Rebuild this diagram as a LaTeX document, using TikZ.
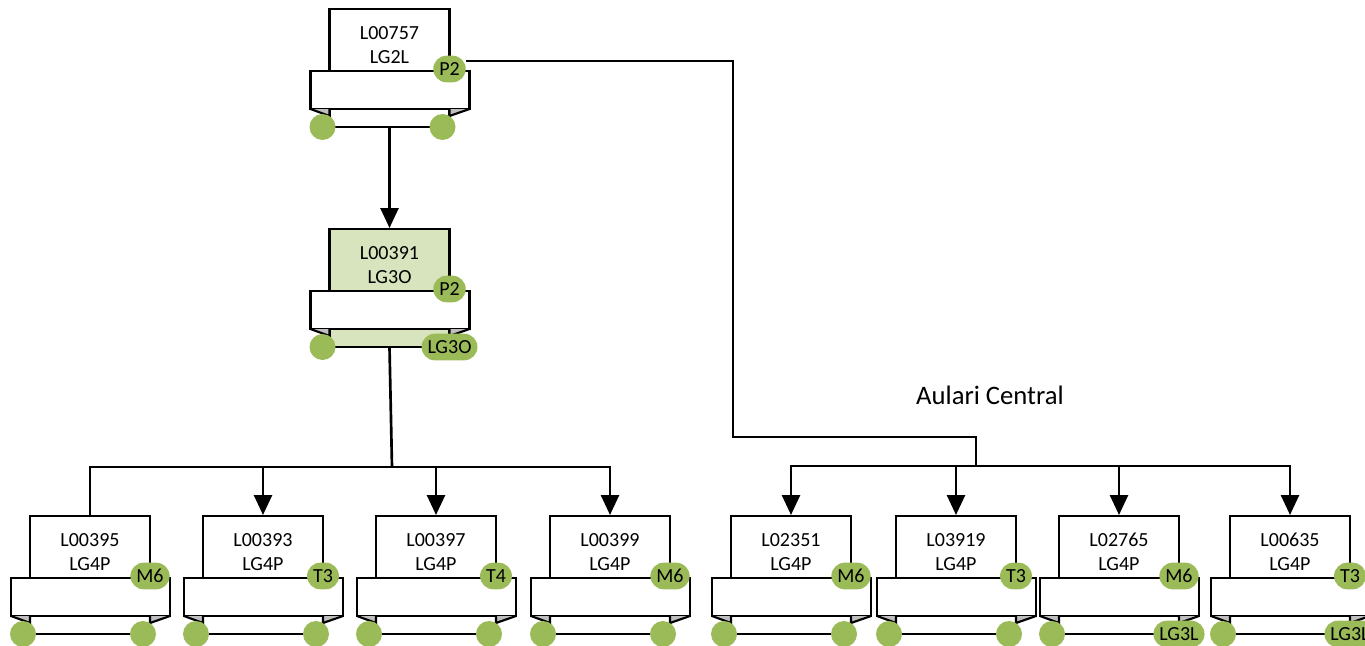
\documentclass[tikz,border=0pt]{standalone}
\usepackage{fontspec}
\setmainfont{Carlito}
\usepackage{tikz}
\usetikzlibrary{arrows.meta,calc}

\definecolor{badgegreen}{HTML}{9BBB59}
\definecolor{lightgreen}{HTML}{D7E4BD}
\definecolor{ribgray}{HTML}{BFBFBF}

\tikzset{
  topbox/.style={draw,line width=1.6pt,anchor=north,minimum width=90pt,minimum height=47.25pt,inner sep=0pt},
  ribbon/.style={draw,line width=1.6pt},
  dot/.style={circle,fill=badgegreen,minimum size=19.5pt,inner sep=0pt},
  badge/.style={fill=badgegreen,rounded corners=10pt,minimum height=20pt,minimum width=20pt,inner xsep=4.5pt,inner ysep=0pt,font=\fontsize{15}{17}\selectfont},
  conn/.style={line width=2pt},
  arr/.style={conn,-{Triangle[length=15pt,width=13.5pt]}}
}

% one unit: [fill]{code}{x}{y}{level}{badge}{bottom badge, empty for a dot}
\newcommand{\lunit}[7][white]{%
  \node[topbox,fill=#1] (#2) at (#3,#4) {};
  \draw[ribbon,fill=#1] (#3-60,#4+101) rectangle (#3+60,#4+119);
  \draw[ribbon,fill=white] (#3-79,#4+63) rectangle (#3+80,#4+101);
  \draw[ribbon,fill=ribgray] (#3-79,#4+101) -- (#3-60,#4+108) -- (#3-60,#4+101);
  \draw[ribbon,fill=ribgray] (#3+80,#4+101) -- (#3+60,#4+108) -- (#3+60,#4+101);
  \coordinate (#2-out) at (#3,#4+119);
  \node[dot] (#2-dl) at (#3-67,#4+119) {};
  \if\relax\detokenize{#7}\relax
    \node[dot] (#2-dr) at (#3+53,#4+119) {};
  \else
    \node[badge] (#2-dr) at (#3+60,#4+119) {#7};
  \fi
  \node[badge] (#2-b) at (#3+60,#4+61) {#6};
  \node[align=center,font=\fontsize{15}{18}\selectfont] (#2-t) at (#3,#4+37) {#2\\#5};
}

\begin{document}
\begin{tikzpicture}[x=0.75pt,y=-0.75pt]
\useasboundingbox (0,0) rectangle (1365,646);
\lunit{L00757}{389.5}{8}{LG2L}{P2}{}
\lunit[lightgreen]{L00391}{389.5}{228}{LG3O}{P2}{LG3O}
% left group
\lunit{L00395}{90}{515}{LG4P}{M6}{}
\lunit{L00393}{263}{515}{LG4P}{T3}{}
\lunit{L00397}{436}{515}{LG4P}{T4}{}
\lunit{L00399}{610}{515}{LG4P}{M6}{}
% right group
\lunit{L02351}{791}{515}{LG4P}{M6}{}
\lunit{L03919}{956}{515}{LG4P}{T3}{}
\lunit{L02765}{1119}{515}{LG4P}{M6}{LG3L}
\lunit{L00635}{1290}{515}{LG4P}{T3}{LG3L}

\node[font=\fontsize{20}{24}\selectfont] (aulari) at (990,395) {Aulari Central};

\coordinate (jL) at (392,467);
\coordinate (bend) at (733,437);
\coordinate (jR) at (976,466);

\draw[arr] (L00757-out) -- (L00391);
\draw[conn] (L00391-out) -- (jL);
\draw[conn] (jL) -| (L00395.north);
\draw[arr] (jL) -| (L00393.north);
\draw[arr] (jL) -| (L00397.north);
\draw[arr] (jL) -| (L00399.north);

\draw[conn] ([yshift=6pt]L00757-b.east) -| (bend) -| (jR);
\draw[arr] (jR) -| (L02351.north);
\draw[arr] (jR) -| (L03919.north);
\draw[arr] (jR) -| (L02765.north);
\draw[arr] (jR) -| (L00635.north);
\end{tikzpicture}
\end{document}
